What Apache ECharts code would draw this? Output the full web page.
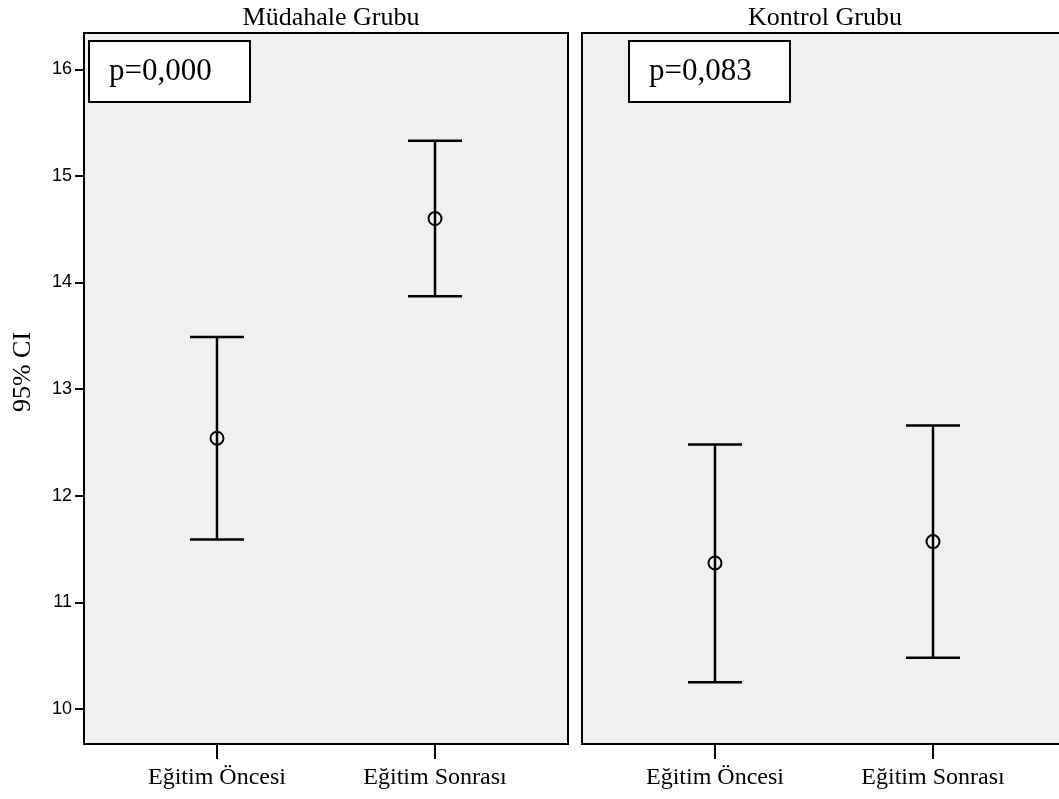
<!DOCTYPE html>
<html>
<head>
<meta charset="utf-8">
<script src="https://cdn.jsdelivr.net/npm/echarts@6/dist/echarts.min.js"></script>
<style>
  html, body { margin: 0; padding: 0; background: #fff; }
  #chart { width: 1059px; height: 799px; }
</style>
</head>
<body>
<div id="chart"></div>
<script>
// Groups shown as panels
var groups = ['Müdahale Grubu', 'Kontrol Grubu'];
var pLabels = ['p=0,000', 'p=0,083'];
// Time points on the x axis
var categories = ['Eğitim Öncesi', 'Eğitim Sonrası'];
var catPos = [1, 2];
// Means and 95% CI bounds per group
var interventionMean = [12.54, 14.60];
var interventionLow = [11.59, 13.87];
var interventionHigh = [13.49, 15.33];
var controlMean = [11.37, 11.57];
var controlLow = [10.25, 10.48];
var controlHigh = [12.48, 12.66];
// Y axis tick labels
var yTicks = [10, 11, 12, 13, 14, 15, 16];

var serif = '"Liberation Serif", "Times New Roman", serif';
var sans = '"Liberation Sans", Arial, sans-serif';

var chart = echarts.init(document.getElementById('chart'));

var panelLeft = [84, 582];
var panelWidth = 484;
var panelTop = 33;
var panelHeight = 711;
var boxOffset = [4, 46];

function grid(i) {
  return {
    left: panelLeft[i], top: panelTop, width: panelWidth, height: panelHeight,
    outerBoundsMode: 'none',
    show: true, backgroundColor: '#f0f0f0', borderColor: '#000', borderWidth: 2
  };
}

function xAxis(i) {
  return {
    type: 'value', gridIndex: i, min: 0.39, max: 2.61,
    splitLine: { show: false },
    axisLine: { show: true, onZero: false, lineStyle: { color: '#000', width: 2 } },
    axisTick: { show: true, customValues: catPos, length: 15, lineStyle: { color: '#000', width: 2 } },
    axisLabel: {
      customValues: catPos, margin: 22,
      color: '#000', fontFamily: serif, fontSize: 24,
      formatter: function (v) { return categories[Math.round(v) - 1]; }
    }
  };
}

function yAxis(i) {
  var first = i === 0;
  return {
    type: 'value', gridIndex: i, min: 9.672, max: 16.34,
    splitLine: { show: false },
    axisLine: { show: true, onZero: false, lineStyle: { color: '#000', width: 2 } },
    axisTick: { show: first, customValues: yTicks, length: 9, lineStyle: { color: '#000', width: 2 } },
    axisLabel: {
      show: first, customValues: yTicks, margin: 12,
      color: '#000', fontFamily: sans, fontSize: 18
    }
  };
}

function ciData(low, high) {
  return catPos.map(function (x, k) { return [x, low[k], high[k]]; });
}
function meanData(mean) {
  return catPos.map(function (x, k) { return [x, mean[k]]; });
}

function renderCI(params, api) {
  var x = api.value(0);
  var top = api.coord([x, api.value(2)]);
  var bot = api.coord([x, api.value(1)]);
  var half = 27;
  var style = { stroke: '#000', lineWidth: 2.5 };
  return {
    type: 'group',
    children: [
      { type: 'line', shape: { x1: top[0], y1: top[1], x2: bot[0], y2: bot[1] }, style: style },
      { type: 'line', shape: { x1: top[0] - half, y1: top[1], x2: top[0] + half, y2: top[1] }, style: style },
      { type: 'line', shape: { x1: bot[0] - half, y1: bot[1], x2: bot[0] + half, y2: bot[1] }, style: style }
    ]
  };
}

function ciSeries(i, low, high) {
  return {
    type: 'custom', xAxisIndex: i, yAxisIndex: i,
    renderItem: renderCI, data: ciData(low, high),
    encode: { x: 0, y: [1, 2] }, silent: true, z: 2
  };
}

function meanSeries(i, mean) {
  return {
    type: 'scatter', xAxisIndex: i, yAxisIndex: i,
    data: meanData(mean), symbol: 'circle', symbolSize: 13,
    itemStyle: { color: 'rgba(0,0,0,0)', borderColor: '#000', borderWidth: 2, opacity: 1 },
    silent: true, z: 3
  };
}

function pBox(i) {
  var x = panelLeft[i] + boxOffset[i];
  return {
    type: 'group', left: x, top: 40,
    children: [
      { type: 'rect', shape: { x: 0, y: 0, width: 161, height: 61 },
        style: { fill: '#fff', stroke: '#000', lineWidth: 2 } },
      { type: 'text', x: 20, y: 31,
        style: { text: pLabels[i], fill: '#000', font: '31px ' + serif, textVerticalAlign: 'middle' } }
    ]
  };
}

chart.setOption({
  backgroundColor: '#fff',
  animation: false,
  title: groups.map(function (g, i) {
    return {
      text: g, left: panelLeft[i] + (i === 0 ? panelWidth / 2 : 238), top: 0, textAlign: 'center',
      textStyle: { color: '#000', fontFamily: serif, fontSize: 26, fontWeight: 'normal' }
    };
  }),
  grid: [grid(0), grid(1)],
  xAxis: [xAxis(0), xAxis(1)],
  yAxis: [yAxis(0), yAxis(1)],
  graphic: [
    pBox(0), pBox(1),
    { type: 'text', x: 23, y: 372, rotation: Math.PI / 2,
      style: { text: '95% CI', fill: '#000', font: '26px ' + serif, align: 'center', verticalAlign: 'middle' } }
  ],
  series: [
    ciSeries(0, interventionLow, interventionHigh),
    meanSeries(0, interventionMean),
    ciSeries(1, controlLow, controlHigh),
    meanSeries(1, controlMean)
  ]
});
</script>
</body>
</html>
